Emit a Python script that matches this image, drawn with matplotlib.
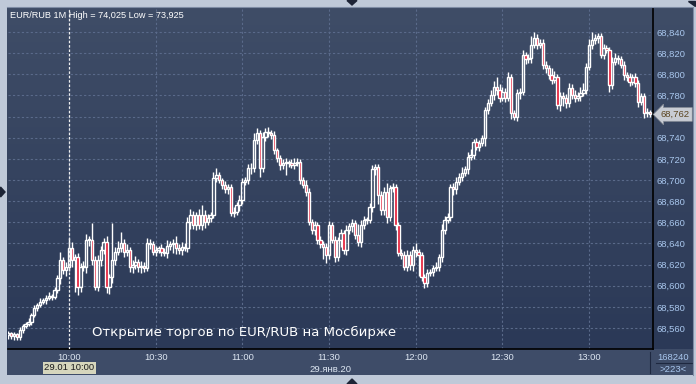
import matplotlib
matplotlib.use("Agg")
import matplotlib.pyplot as plt
import matplotlib.transforms as mtransforms
from matplotlib.colors import LinearSegmentedColormap
from matplotlib.patches import Polygon
import numpy as np

# EUR/RUB 1 minute candles, 09:39 .. 13:21 (close prices in thousandths)
start_minute = 9 * 60 + 39
close_milli = [
    68555, 68552, 68554, 68551, 68558, 68562, 68564, 68566, 68572, 68579,
    68582, 68585, 68586, 68588, 68590, 68589, 68596, 68607, 68624, 68615,
    68618, 68636, 68624, 68627, 68599, 68618, 68618, 68643, 68643, 68624,
    68599, 68624, 68634, 68641, 68599, 68608, 68624, 68632, 68636, 68640,
    68632, 68634, 68618, 68620, 68622, 68618, 68619, 68617, 68640, 68639,
    68632, 68634, 68636, 68632, 68631, 68638, 68639, 68640, 68636, 68634,
    68637, 68636, 68660, 68667, 68657, 68667, 68657, 68667, 68660, 68664,
    68667, 68702, 68705, 68700, 68695, 68691, 68693, 68669, 68670, 68676,
    68681, 68698, 68700, 68711, 68711, 68738, 68744, 68711, 68741, 68745,
    68744, 68743, 68728, 68721, 68714, 68716, 68716, 68716, 68714, 68716,
    68717, 68700, 68695, 68689, 68660, 68653, 68657, 68643, 68639, 68637,
    68629, 68657, 68643, 68627, 68643, 68650, 68634, 68653, 68656, 68659,
    68648, 68641, 68657, 68662, 68662, 68674, 68710, 68712, 68686, 68672,
    68689, 68665, 68692, 68693, 68657, 68631, 68629, 68618, 68629, 68620,
    68634, 68632, 68629, 68608, 68603, 68612, 68613, 68617, 68618, 68627,
    68653, 68662, 68665, 68693, 68691, 68698, 68703, 68707, 68710, 68722,
    68724, 68736, 68731, 68735, 68740, 68766, 68773, 68780, 68788, 68785,
    68778, 68783, 68778, 68797, 68763, 68760, 68782, 68783, 68818, 68814,
    68815, 68828, 68834, 68828, 68830, 68809, 68806, 68799, 68795, 68797,
    68771, 68779, 68778, 68773, 68787, 68780, 68778, 68779, 68782, 68785,
    68807, 68828, 68832, 68834, 68836, 68818, 68825, 68823, 68790, 68812,
    68815, 68814, 68809, 68799, 68797, 68793, 68797, 68792, 68774, 68779,
    68763, 68764, 68762,
]
first_open_milli = 68553

# wick lengths above / below the body (thousandths)
hi_ext = [
    2, 1, 2, 1, 3, 2, 2, 3, 2, 3,
    2, 3, 2, 3, 4, 2, 3, 3, 8, 3,
    4, 9, 5, 3, 4, 3, 5, 6, 4, 16,
    4, 5, 4, 4, 6, 3, 35, 5, 6, 11,
    4, 5, 3, 4, 6, 3, 4, 3, 5, 4,
    3, 4, 2, 3, 4, 5, 3, 4, 7, 3,
    4, 3, 5, 6, 4, 3, 6, 9, 5, 4,
    3, 6, 6, 3, 2, 4, 3, 3, 4, 3,
    5, 4, 3, 4, 5, 6, 5, 3, 4, 4,
    5, 3, 3, 2, 3, 4, 5, 3, 4, 5,
    4, 3, 3, 5, 3, 3, 4, 3, 4, 3,
    3, 4, 3, 4, 3, 4, 3, 4, 3, 4,
    3, 10, 5, 4, 3, 4, 4, 3, 3, 4,
    4, 8, 3, 4, 3, 3, 4, 4, 5, 4,
    4, 6, 3, 3, 3, 4, 3, 3, 4, 3,
    5, 4, 4, 3, 4, 5, 4, 5, 3, 4,
    5, 3, 4, 3, 3, 3, 4, 5, 6, 9,
    6, 5, 4, 5, 3, 3, 4, 4, 5, 3,
    4, 8, 6, 4, 3, 3, 4, 3, 7, 6,
    3, 4, 4, 3, 5, 4, 5, 4, 6, 7,
    4, 5, 8, 4, 3, 3, 4, 3, 3, 4,
    5, 3, 3, 4, 3, 4, 3, 4, 3, 3,
    3, 4, 2,
]
lo_ext = [
    3, 2, 3, 2, 2, 3, 2, 2, 3, 2,
    3, 2, 2, 3, 2, 3, 2, 3, 5, 4,
    6, 4, 6, 30, 8, 5, 4, 6, 5, 4,
    3, 4, 5, 4, 6, 7, 5, 4, 3, 4,
    5, 4, 5, 6, 4, 5, 6, 4, 3, 4,
    3, 4, 3, 4, 3, 5, 4, 8, 6, 4,
    5, 3, 4, 6, 3, 4, 3, 4, 5, 3,
    4, 3, 4, 3, 4, 3, 4, 3, 4, 3,
    5, 4, 3, 4, 5, 3, 4, 8, 3, 4,
    3, 4, 3, 4, 5, 4, 11, 4, 3, 4,
    3, 4, 3, 4, 3, 4, 5, 4, 3, 12,
    8, 4, 3, 5, 4, 6, 4, 5, 4, 5,
    4, 3, 4, 3, 4, 3, 4, 5, 9, 5,
    5, 6, 4, 3, 4, 3, 4, 3, 4, 5,
    6, 5, 20, 4, 5, 4, 3, 4, 3, 4,
    5, 4, 3, 4, 5, 4, 3, 4, 3, 4,
    3, 4, 3, 4, 3, 8, 4, 3, 4, 5,
    4, 3, 4, 3, 5, 3, 4, 5, 3, 4,
    3, 4, 3, 4, 3, 4, 5, 3, 4, 3,
    4, 6, 8, 5, 4, 3, 4, 3, 4, 3,
    4, 3, 4, 3, 4, 3, 4, 3, 7, 4,
    3, 4, 3, 4, 3, 4, 3, 4, 5, 3,
    4, 3, 2,
]

time_labels = ["10:00", "10:30", "11:00", "11:30", "12:00", "12:30", "13:00"]
price_ticks = [68.560, 68.580, 68.600, 68.620, 68.640, 68.660, 68.680,
               68.700, 68.720, 68.740, 68.760, 68.780, 68.800, 68.820, 68.840]

title_text = "EUR/RUB 1M High = 74,025 Low = 73,925"
note_text = "Открытие торгов по EUR/RUB на Мосбирже"
cursor_label = "29.01 10:00"
date_label = "29.янв.20"
volume_text = "168240"
count_text = ">223<"

W, H = 696, 384


def box(x0, y0, x1, y1):
    return [x0 / W, 1 - y1 / H, (x1 - x0) / W, (y1 - y0) / H]


closes = np.array(close_milli) / 1000.0
opens = np.concatenate([[first_open_milli / 1000.0], closes[:-1]])
tops = np.maximum(opens, closes)
bots = np.minimum(opens, closes)
highs = tops + np.array(hi_ext) / 1000.0
lows = bots - np.array(lo_ext) / 1000.0
xs = np.arange(len(closes))
last = closes[-1]

fig = plt.figure(figsize=(W / 100, H / 100), dpi=100, facecolor="#bfc9d8")

# gradient background behind plot + right scale
bg = fig.add_axes(box(7, 7, 693, 349))
cmap = LinearSegmentedColormap.from_list("bg", ["#3f4d67", "#2b3957"])
bg.imshow(np.linspace(0, 1, 256).reshape(-1, 1), aspect="auto", cmap=cmap,
          extent=[0, 1, 0, 1])
bg.axis("off")

# bottom time panel
bp = fig.add_axes(box(7, 349, 693, 375))
bp.set_facecolor("#3e4c68")
bp.set_xticks([])
bp.set_yticks([])
for s in bp.spines.values():
    s.set_visible(False)

ax = fig.add_axes(box(8, 8, 653, 349))
ax.patch.set_alpha(0)
ax.set_xlim(-0.1, 223.1)
ax.set_ylim(68.5401, 68.8627)

for s in ["top", "left"]:
    ax.spines[s].set_visible(False)
for s in ["right", "bottom"]:
    ax.spines[s].set_color("black")
    ax.spines[s].set_linewidth(1.2)

tick_pos = [int(t[:2]) * 60 + int(t[3:]) - start_minute for t in time_labels]
ax.set_xticks(tick_pos)
ax.set_xticklabels(time_labels, fontsize=6.8, color="#dde6f2",
                   family="Liberation Sans")
ax.tick_params(axis="x", length=0, pad=3)
ax.yaxis.tick_right()
ax.set_yticks(price_ticks)
# the scale label under the last-price marker is hidden, as in the terminal
ytl = []
for p in price_ticks:
    ytl.append("" if abs(p - last) < 0.008 else f"{p:.3f}".replace(".", ","))
ax.set_yticklabels(ytl, fontsize=6.8, color="#a9c7ee", family="Liberation Sans")
ax.tick_params(axis="y", length=0, pad=2.5)
ax.grid(True, color="#5a6a8a", linestyle=(0, (2, 2)), linewidth=0.8)
ax.set_axisbelow(True)

# candles
up = closes >= opens
ax.vlines(xs, tops, highs, color="white", linewidth=1.0, zorder=3)
ax.vlines(xs, lows, bots, color="white", linewidth=1.0, zorder=3)
heights = np.maximum(tops - bots, 0.0008)
ax.bar(xs[up], heights[up], bottom=bots[up], width=0.8,
       facecolor="none", edgecolor="white", linewidth=1.0, zorder=4)
ax.bar(xs[~up], heights[~up], bottom=bots[~up], width=0.8,
       facecolor="#e3102c", edgecolor="white", linewidth=1.0, zorder=4)

# cursor line at 10:00
ax.axvline(tick_pos[0], color="#f0f0f0", linestyle=(0, (2, 1.5)),
           linewidth=0.9, zorder=5)

# last price marker
trans = mtransforms.blended_transform_factory(ax.transAxes, ax.transData)
ax.text(1.012, last, f"{last:.3f}".replace(".", ","),
        transform=trans, fontsize=6.8, color="#5a4420", va="center",
        ha="left", family="Liberation Sans", zorder=10, clip_on=False,
        bbox=dict(boxstyle="larrow,pad=0.25", facecolor="#c8ccd4",
                  edgecolor="#8a909a", linewidth=0.5))

# decorations in pixel coordinates
deco = fig.add_axes([0, 0, 1, 1])
deco.set_xlim(0, W)
deco.set_ylim(H, 0)
deco.axis("off")
deco.patch.set_alpha(0)
deco.set_zorder(5)

deco.text(10, 15, title_text, fontsize=6.6, color="white", va="center",
          ha="left", family="Liberation Sans")
deco.text(244, 332, note_text, fontsize=9.5, color="white", va="center",
          ha="center", family="DejaVu Sans")
deco.text(69.5, 368, cursor_label, fontsize=6.8, color="#1c1c1c",
          va="center", ha="center", family="Liberation Sans",
          bbox=dict(boxstyle="square,pad=0.15", facecolor="#d6d6bd",
                    edgecolor="none"))
deco.text(330, 369, date_label, fontsize=6.8, color="#dde6f2", va="center",
          ha="center", family="Liberation Sans")
deco.text(673, 357, volume_text, fontsize=6.8, color="#a9c7ee", va="center",
          ha="center", family="Liberation Sans")
deco.text(673, 369.5, count_text, fontsize=6.8, color="#a9c7ee", va="center",
          ha="center", family="Liberation Sans")
deco.plot([656, 692], [363, 363], color="#1e2840", linewidth=0.8)
deco.plot([650, 650], [352, 373], color="#1e2840", linewidth=0.8)

# outer frame lines and little triangles
deco.plot([7, 693, 693], [7, 7, 375], color="#7e8ca4", linewidth=0.8)
deco.add_patch(Polygon([[347, 0.5], [357, 0.5], [352, 5]], closed=True,
                       color="#1d2436"))
deco.add_patch(Polygon([[347, 384], [357, 384], [352, 379]], closed=True,
                       color="#1d2436"))
deco.add_patch(Polygon([[0.5, 187], [0.5, 197], [5, 192]], closed=True,
                       color="#1d2436"))
deco.add_patch(Polygon([[688, 0.5], [695, 0.5], [695, 6]], closed=True,
                       color="#1d2436"))

fig.savefig("out.png", dpi=100, facecolor=fig.get_facecolor())
